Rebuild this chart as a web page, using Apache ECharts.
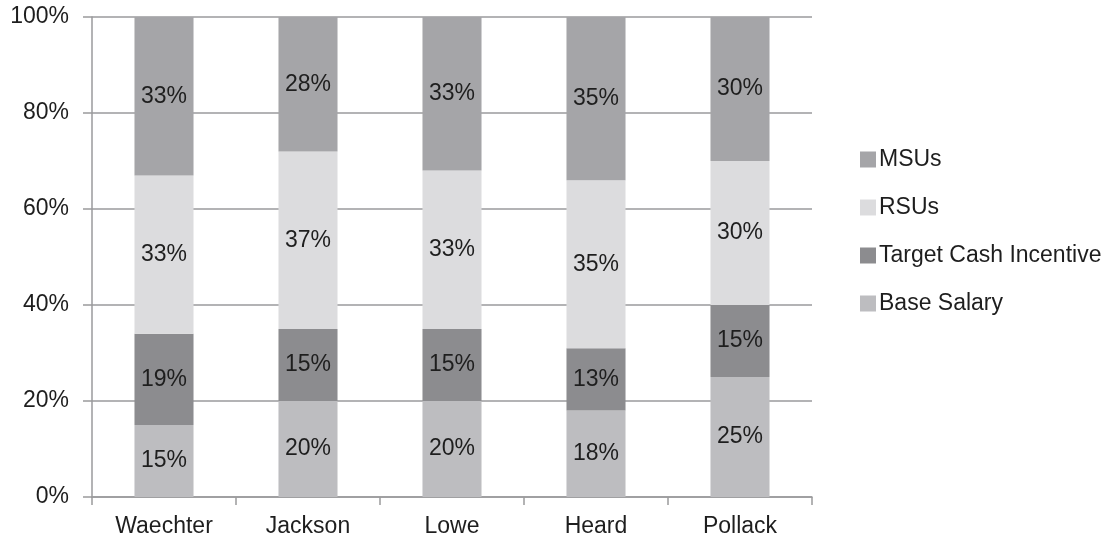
<!DOCTYPE html>
<html>
<head>
<meta charset="utf-8">
<script src="https://cdn.jsdelivr.net/npm/echarts@6/dist/echarts.min.js"></script>
<style>
  html, body { margin: 0; padding: 0; background: #fff; }
  #chart { width: 1113px; height: 542px; }
</style>
</head>
<body>
<div id="chart"></div>
<script>
// Executive pay mix, percent of total compensation
const executives = ['Waechter', 'Jackson', 'Lowe', 'Heard', 'Pollack'];
const baseSalary = [15, 20, 20, 18, 25];
const targetCashIncentive = [19, 15, 15, 13, 15];
const rsus = [33, 37, 33, 35, 30];
const msus = [33, 28, 33, 35, 30];
const yTicks = [0, 20, 40, 60, 80, 100];

const font = '"Liberation Sans", Arial, Helvetica, sans-serif';
const axisGray = '#9a9a9c';
const textColor = '#1e1e1e';
const fontSize = 23;

function stackSeries(name, data, color) {
  return {
    name: name,
    type: 'bar',
    stack: 'total',
    data: data,
    barWidth: '41%',
    itemStyle: { color: color },
    label: {
      show: true,
      position: 'inside',
      formatter: '{c}%',
      color: textColor,
      fontSize: fontSize,
      fontFamily: font
    },
    emphasis: { disabled: true }
  };
}

const chart = echarts.init(document.getElementById('chart'), null, { renderer: 'canvas' });
chart.setOption({
  animation: false,
  backgroundColor: '#fff',
  grid: { left: 92, right: 301, top: 17, bottom: 45, containLabel: false },
  legend: {
    orient: 'vertical',
    left: 855,
    top: 143,
    itemWidth: 16,
    itemHeight: 16,
    itemGap: 25,
    icon: 'rect',
    textStyle: { color: textColor, fontSize: fontSize, fontFamily: font, padding: [0, 0, 0, -2] },
    data: ['MSUs', 'RSUs', 'Target Cash Incentive', 'Base Salary']
  },
  xAxis: {
    type: 'category',
    data: executives,
    axisLine: { show: true, lineStyle: { color: axisGray, width: 1.5 } },
    axisTick: { show: true, length: 8, alignWithLabel: false, lineStyle: { color: axisGray, width: 1.5 } },
    axisLabel: { color: textColor, fontSize: fontSize, fontFamily: font, margin: 18 }
  },
  yAxis: {
    type: 'value',
    min: yTicks[0],
    max: yTicks[yTicks.length - 1],
    interval: yTicks[1] - yTicks[0],
    axisLine: { show: true, lineStyle: { color: axisGray, width: 1.5 } },
    axisTick: { show: true, length: 9, lineStyle: { color: axisGray, width: 1.5 } },
    splitLine: { show: true, lineStyle: { color: axisGray, width: 1.5 } },
    axisLabel: { color: textColor, fontSize: fontSize, fontFamily: font, margin: 23, formatter: '{value}%' }
  },
  series: [
    stackSeries('Base Salary', baseSalary, '#bdbdc0'),
    stackSeries('Target Cash Incentive', targetCashIncentive, '#8c8c8f'),
    stackSeries('RSUs', rsus, '#dcdcde'),
    stackSeries('MSUs', msus, '#a5a5a8')
  ]
});
</script>
</body>
</html>
